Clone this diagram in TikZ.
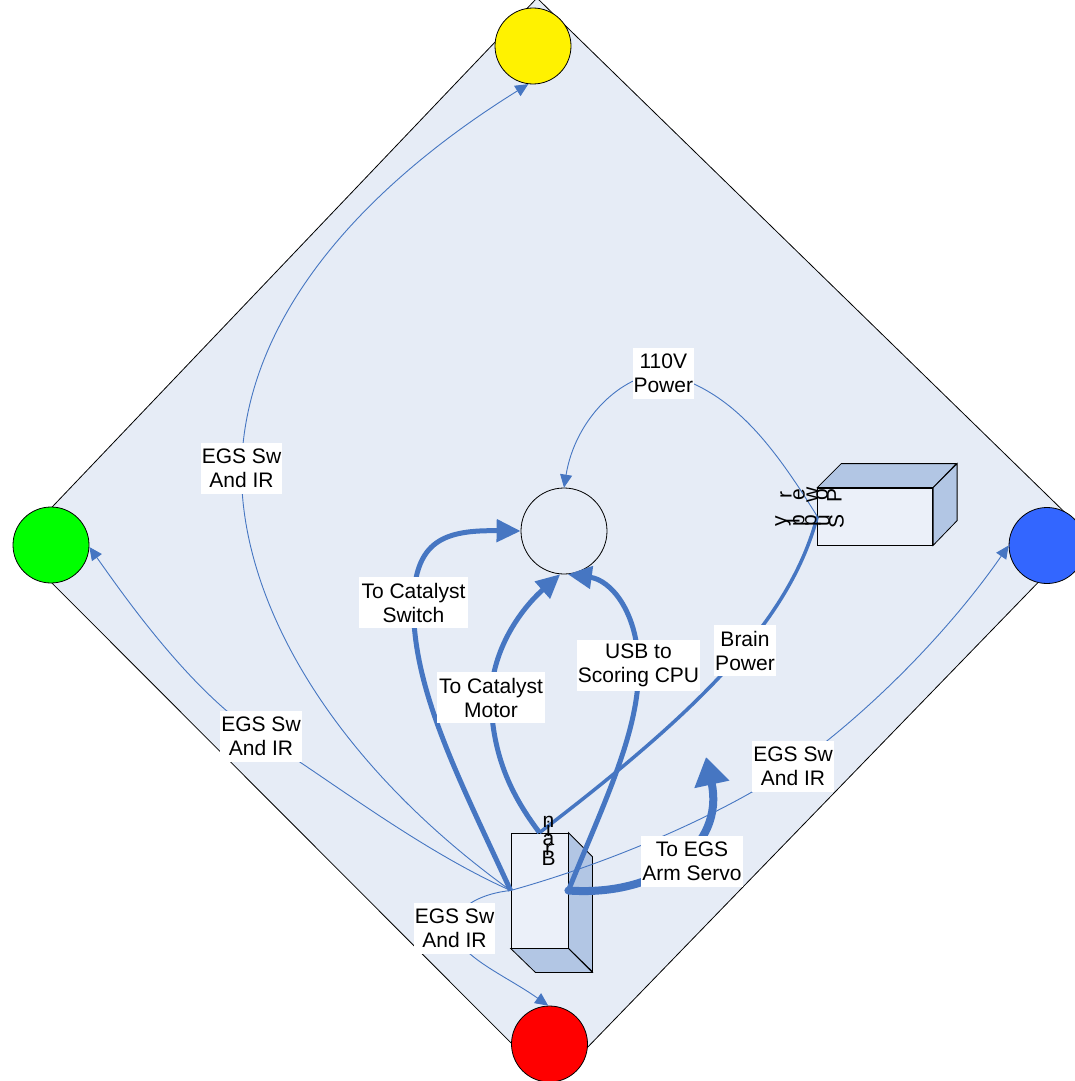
\documentclass[tikz,border=0pt]{standalone}
\usepackage{fontspec}
\setmainfont{Liberation Sans}
\usetikzlibrary{arrows.meta}
\definecolor{bgblue}{RGB}{230,236,246}
\definecolor{lnblue}{RGB}{70,118,194}
\definecolor{sideblue}{RGB}{178,198,228}
\definecolor{frontblue}{RGB}{235,240,249}
\definecolor{spotblue}{RGB}{51,102,255}
\pgfdeclarelayer{back}
\pgfdeclarelayer{conn}
\pgfsetlayers{back,conn,main}
\begin{document}
\begin{tikzpicture}[x=1pt,y=-1pt,
  spot/.style={circle,draw=black,line width=0.8pt,minimum size=76pt,inner sep=0pt},
  face/.style={draw=black,line width=0.8pt,fill=sideblue,line join=miter},
  boxface/.style={draw=black,line width=0.8pt,fill=frontblue,inner sep=0pt},
  lbl/.style={fill=white,align=center,inner xsep=1pt,inner ysep=0pt,minimum height=51pt,font=\fontsize{21}{24}\selectfont},
  thinc/.style={draw=lnblue,line width=0.9pt,-{Triangle[length=13pt,width=12pt]}},
  thickc/.style={draw=lnblue,line width=5pt,-{Triangle[length=24pt,width=22pt]}},
  chr/.style={inner sep=0pt,anchor=base,font=\fontsize{21}{24}\selectfont}
]
\useasboundingbox (0,0) rectangle (1074,1081);
\begin{pgfonlayer}{back}
\fill[white] (0,0) rectangle (1074,1081);
\draw[fill=bgblue,line width=0.8pt] (537,-2) -- (1086,533) -- (552,1084) -- (15,546) -- cycle;
\node[spot,fill=yellow] (Y) at (533,46) {};
\node[spot,fill=green] (G) at (51,545) {};
\node[spot,fill=spotblue] (B) at (1047,545.5) {};
\node[spot,fill=red] (R) at (549.5,1044) {};
\node[circle,draw=black,line width=0.8pt,minimum size=86pt,inner sep=0pt] (C) at (564,531) {};
\node[boxface,minimum width=57pt,minimum height=115pt] (brain) at (539.5,890.5) {};
\draw[face] (brain.north east) -- ++(24,24) -- ++(0,115) -- (brain.south east) -- cycle;
\draw[face] (brain.south west) -- (brain.south east) -- ++(24,24) -- ++(-57,0) -- cycle;
\node[boxface,minimum width=115pt,minimum height=57pt] (ps) at (875.2,516.5) {};
\draw[face] (ps.north west) -- ++(24,-24) -- ++(115,0) -- (ps.north east) -- cycle;
\draw[face] (ps.north east) -- ++(24,-24) -- ++(0,57) -- (ps.south east) -- cycle;
\end{pgfonlayer}

% labels
\node[lbl,minimum width=81pt] (lY) at (241.5,468.5) {EGS Sw\\And IR};
\node[lbl,minimum width=81pt] (lG) at (261,736.5) {EGS Sw\\And IR};
\node[lbl,minimum width=81pt] (lB) at (793,766.5) {EGS Sw\\And IR};
\node[lbl,minimum width=81pt] (lR) at (454.5,928) {EGS Sw\\And IR};
\node[lbl,minimum width=61pt] (lV) at (663.3,373) {110V\\Power};
\node[lbl,minimum width=109pt] (lSw) at (413.5,602.5) {To Catalyst\\Switch};
\node[lbl,minimum width=108pt] (lMo) at (491,697.5) {To Catalyst\\Motor};
\node[lbl,minimum width=123pt] (lUSB) at (638.5,665) {USB to\\Scoring CPU};
\node[lbl,minimum width=62pt] (lBP) at (745,650.5) {Brain\\Power};
\node[lbl,minimum width=100pt] (lArm) at (692,861.5) {To EGS\\Arm Servo};

% box texts
\node[chr] (b1) at (548.5,865) {B};
\node[chr] (b2) at (548.5,855) {r};
\node[chr] (b3) at (548.5,845) {a};
\node[chr] (b4) at (548.5,836) {i};
\node[chr] (b5) at (548.5,827) {n};
\node[chr,rotate=90] (p1) at (841.5,495) {P};
\node[chr,rotate=90] (p2) at (827.5,495) {o};
\node[chr,rotate=90] (p3) at (817.5,495) {w};
\node[chr,rotate=90] (p4) at (804.5,495) {e};
\node[chr,rotate=90] (p5) at (791.5,495) {r};
\node[chr,rotate=90] (s1) at (843.5,521) {S};
\node[chr,rotate=90] (s2) at (829.5,521) {u};
\node[chr,rotate=90] (s3) at (816.3,521) {p};
\node[chr,rotate=90] (s4) at (804.3,521) {p};
\node[chr,rotate=90] (s5) at (799.5,521) {l};
\node[chr,rotate=90] (s6) at (786.3,521) {y};

\begin{pgfonlayer}{conn}
\draw[thinc] (brain.west) .. controls (330,760) and (240,600) .. (lY.center) .. controls (245,300) and (390,170) .. (Y.263);
\draw[thinc] (brain.west) .. controls (420,850) and (330,780) .. (lG.center) .. controls (190,692) and (120,590) .. (G.357);
\draw[thinc] (brain.west) .. controls (620,860) and (730,810) .. (lB.center) .. controls (870,712) and (950,630) .. (B.180);
\draw[thinc] (brain.west) .. controls (485,893) and (455,905) .. (lR.center) .. controls (455,955) and (505,975) .. (R.92);
\draw[thinc] (ps.west) .. controls (770,440) and (730,390) .. (lV.center) .. controls (620,375) and (575,420) .. (C.north);
\draw[draw=lnblue,line width=3.5pt] (brain.north) .. controls (700,710) and (790,620) .. (ps.west);
\draw[thickc] (brain.west) .. controls (460,780) and (412,690) .. (lSw.center) .. controls (415,540) and (445,530) .. (C.west);
\draw[thickc] (brain.north) .. controls (515,800) and (492,760) .. (lMo.center) .. controls (492,650) and (520,610) .. (C.265);
\draw[thickc] (brain.east) .. controls (605,800) and (640,730) .. (lUSB.center) .. controls (637,610) and (610,580) .. (C.275);
\draw[draw=lnblue,line width=8pt,line cap=round,-{Triangle[length=28pt,width=34pt]}] (brain.east) .. controls (660,897) and (725,845) .. (706,757);
\end{pgfonlayer}
\end{tikzpicture}
\end{document}
